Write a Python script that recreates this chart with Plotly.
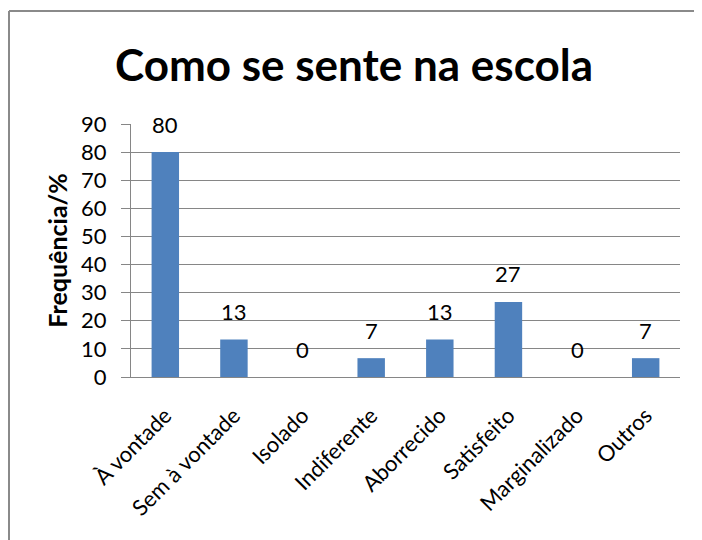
import plotly.graph_objects as go

categories = ["À vontade", "Sem à vontade", "Isolado", "Indiferente",
              "Aborrecido", "Satisfeito", "Marginalizado", "Outros"]
values = [80.0, 13.3, 0.0, 6.7, 13.3, 26.7, 0.0, 6.7]
labels = ["80", "13", "0", "7", "13", "27", "0", "7"]
y_ticks = [0, 10, 20, 30, 40, 50, 60, 70, 80, 90]

FONT = "Lato, Calibri, sans-serif"
BAR = "#4F81BD"
GRID = "#868686"

# the page body adds an 8px offset; margins below are in figure coordinates
L, T, PW, PH = 123, 116, 549, 253
W, H = 702, 540

fig = go.Figure()
fig.add_trace(go.Bar(x=categories, y=values, marker=dict(color=BAR, line=dict(width=0)),
                     hoverinfo="x+y"))

for c, v, t in zip(categories, values, labels):
    fig.add_annotation(x=c, y=v, text=t, showarrow=False, yshift=28,
                       font=dict(family=FONT, size=22, color="black"))

# chart-area border: only top and left edges fall inside the picture
fig.add_shape(type="line", xref="paper", yref="paper",
              x0=(1 - L) / PW, x1=(W - L) / PW,
              y0=(T + PH - 3) / PH, y1=(T + PH - 3) / PH,
              line=dict(color="#8a8a8a", width=2), layer="below")
fig.add_shape(type="line", xref="paper", yref="paper",
              x0=(1 - L) / PW, x1=(1 - L) / PW,
              y0=(T + PH - 3) / PH, y1=(T + PH - H) / PH,
              line=dict(color="#8a8a8a", width=2), layer="below")

fig.update_layout(
    width=W, height=H,
    margin=dict(l=L, r=W - L - PW, t=T, b=H - T - PH),
    paper_bgcolor="white", plot_bgcolor="white",
    bargap=0.6,
    showlegend=False,
    title=dict(text="<b>Como se sente na escola</b>", x=346 / W, xanchor="center",
               y=1 - 58 / H, yanchor="middle",
               font=dict(family=FONT, size=44, color="black")),
    font=dict(family=FONT, color="black"),
)
fig.update_yaxes(range=[0, 90], tickvals=y_ticks, showgrid=True, gridcolor=GRID, gridwidth=1,
                 showline=True, linecolor=GRID, linewidth=1, ticks="outside", ticklen=9,
                 tickcolor=GRID, tickfont=dict(family=FONT, size=22), zeroline=False,
                 ticklabelstandoff=10,
                 title=dict(text="<b>Frequência/%</b>", font=dict(family=FONT, size=25), standoff=6))
fig.update_xaxes(showline=True, linecolor=GRID, linewidth=1, tickangle=-45,
                 tickfont=dict(family=FONT, size=22), ticks="", ticklabelstandoff=16)

fig.write_html("out.html")
